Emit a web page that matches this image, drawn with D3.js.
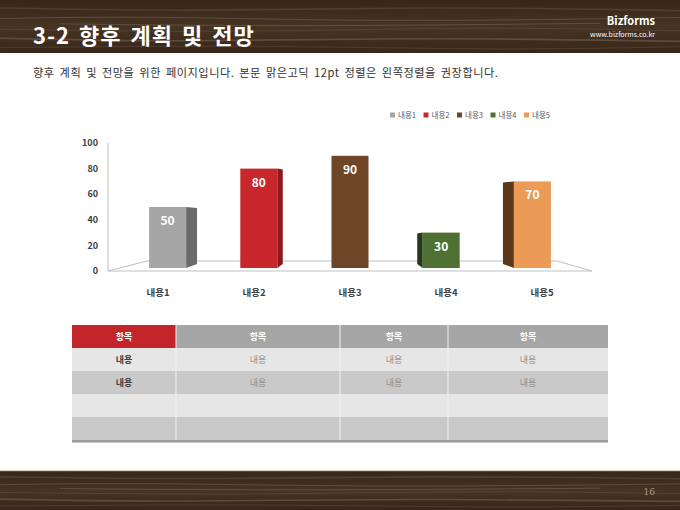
<!DOCTYPE html>
<html>
<head>
<meta charset="utf-8">
<script src="https://cdn.jsdelivr.net/npm/d3@7"></script>
<style>
body{margin:0;background:#fff;}
svg{display:block;font-family:"Noto Sans CJK KR","Noto Sans",sans-serif;}
</style>
</head>
<body>
<svg id="page" width="680" height="510"></svg>
<script>
var categories = ['내용1', '내용2', '내용3', '내용4', '내용5'];
var values = [50, 80, 90, 30, 70];
var yTicks = [0, 20, 40, 60, 80, 100];
var tableHead = ['항목', '항목', '항목', '항목'];
var tableRows = [
    ['내용', '내용', '내용', '내용'],
    ['내용', '내용', '내용', '내용'],
    ['', '', '', ''],
    ['', '', '', '']
];

var fronts = ['#a6a6a6', '#c8282c', '#6e4526', '#4e7133', '#eb9b56'],
    sides  = ['#6b6b6b', '#8a1a1d', '#4a2c15', '#25391a', '#5a3819'];

var svg = d3.select('#page');

// wood bands (header + footer)
function woodBand(y0, h, id){
    var g = svg.append('g');
    var grad = svg.append('defs').append('linearGradient')
        .attr('id', id).attr('x1', 0).attr('y1', 0).attr('x2', 0).attr('y2', 1);
    grad.append('stop').attr('offset', 0).attr('stop-color', '#36261a');
    grad.append('stop').attr('offset', 0.5).attr('stop-color', '#463322');
    grad.append('stop').attr('offset', 1).attr('stop-color', '#37271b');
    g.append('rect').attr('x', 0).attr('y', y0).attr('width', 680).attr('height', h)
        .attr('fill', 'url(#' + id + ')');
    var line = d3.line().curve(d3.curveBasis);
    var streaks = [
        [[0, .15], [200, .22], [420, .12], [680, .2]],
        [[0, .35], [150, .3], [380, .42], [680, .33]],
        [[0, .55], [240, .62], [470, .5], [680, .58]],
        [[0, .72], [180, .8], [400, .7], [680, .78]],
        [[0, .9], [260, .85], [500, .95], [680, .88]],
        [[60, .45], [300, .5], [600, .44]]
    ];
    g.selectAll('path.streak').data(streaks).join('path')
        .attr('class', 'streak')
        .attr('d', function(s){ return line(s.map(function(p){ return [p[0], y0 + p[1] * h]; })); })
        .attr('fill', 'none')
        .attr('stroke', '#8c7866')
        .attr('stroke-opacity', function(d, i){ return i % 2 ? 0.4 : 0.25; })
        .attr('stroke-width', function(d, i){ return i % 3 ? 1 : 1.6; });
    return g;
}
woodBand(0, 53, 'woodTop');
woodBand(471, 39, 'woodBot');
svg.append('rect').attr('x', 0).attr('y', 470).attr('width', 680).attr('height', 1.2).attr('fill', '#d9cbb8');

svg.append('text').attr('x', 33).attr('y', 44)
    .attr('fill', '#fff').attr('font-size', 22).attr('font-weight', 'bold')
    .attr('letter-spacing', 1).attr('word-spacing', 3)
    .text('3-2 향후 계획 및 전망');
svg.append('text').attr('x', 655).attr('y', 25).attr('text-anchor', 'end')
    .attr('fill', '#fff').attr('font-size', 11).attr('font-weight', 'bold')
    .text('Bizforms');
svg.append('text').attr('x', 655).attr('y', 37).attr('text-anchor', 'end')
    .attr('fill', '#fff').attr('font-size', 7)
    .text('www.bizforms.co.kr');
svg.append('text').attr('x', 655).attr('y', 495).attr('text-anchor', 'end')
    .attr('fill', '#a89886').attr('font-size', 9).attr('font-family', 'DejaVu Serif, serif')
    .text('16');

svg.append('text').attr('x', 33).attr('y', 77)
    .attr('fill', '#333').attr('font-size', 11.2)
    .attr('letter-spacing', 0.5).attr('word-spacing', 2)
    .text('향후 계획 및 전망을 위한 페이지입니다. 본문 맑은고딕 12pt 정렬은 왼쪽정렬을 권장합니다.');

// chart
var x = d3.scaleBand().domain(categories).range([110, 590]),
    y = d3.scaleLinear().domain([0, 100]).range([271, 143]),
    mid = 350, barW = 37, depth = 3;

var chart = svg.append('g');

chart.append('path')
    .attr('d', 'M108,' + y(0) + 'L592,' + y(0) + 'L557,' + (y(0) - 10) + 'L147,' + (y(0) - 10) + 'Z')
    .attr('fill', '#fff').attr('stroke', '#bfbfbf').attr('stroke-width', 1);
chart.append('line')
    .attr('x1', 108).attr('x2', 108).attr('y1', y(100)).attr('y2', y(0))
    .attr('stroke', '#bfbfbf');

chart.selectAll('text.ytick').data(yTicks).join('text')
    .attr('class', 'ytick')
    .attr('x', 98).attr('y', function(d){ return y(d); }).attr('dy', '0.35em')
    .attr('text-anchor', 'end').attr('font-size', 9).attr('font-weight', 'bold')
    .attr('fill', '#404040').text(function(d){ return d; });

chart.selectAll('text.xcat').data(categories).join('text')
    .attr('class', 'xcat')
    .attr('x', function(d){ return x(d) + x.bandwidth() / 2; }).attr('y', 296)
    .attr('text-anchor', 'middle').attr('font-size', 9.5).attr('font-weight', 'bold')
    .attr('fill', '#404040').text(function(d){ return d; });

var bars = categories.map(function(c, i){
    var cx = x(c) + x.bandwidth() / 2;
    var fc = cx + (mid - cx) * 0.05;
    return {
        i: i,
        v: values[i],
        fx: fc - barW / 2,
        side: (mid - cx) * 0.057,
        top: y(values[i]),
        bottom: y(0) - depth
    };
});

var bg = chart.selectAll('g.bar').data(bars).join('g').attr('class', 'bar');
bg.filter(function(d){ return Math.abs(d.side) > 0.5; }).append('path')
    .attr('d', function(d){
        var ex = d.side > 0 ? d.fx + barW : d.fx,
            bx = ex + d.side;
        return 'M' + ex + ',' + d.top + 'L' + bx + ',' + (d.top + 1) +
            'L' + bx + ',' + (d.bottom - 4) + 'L' + ex + ',' + d.bottom + 'Z';
    })
    .attr('fill', function(d){ return sides[d.i]; });
bg.append('rect')
    .attr('x', function(d){ return d.fx; }).attr('y', function(d){ return d.top; })
    .attr('width', barW).attr('height', function(d){ return d.bottom - d.top; })
    .attr('fill', function(d){ return fronts[d.i]; });
bg.append('text')
    .attr('x', function(d){ return d.fx + barW / 2; })
    .attr('y', function(d){ return d.top + 18; })
    .attr('text-anchor', 'middle').attr('font-size', 12).attr('font-weight', 'bold')
    .attr('fill', '#fff').text(function(d){ return d.v; });

// legend
var lg = chart.selectAll('g.leg').data(categories).join('g').attr('class', 'leg')
    .attr('transform', function(d, i){ return 'translate(' + (390 + i * 33.5) + ',115)'; });
lg.append('rect').attr('x', 0).attr('y', -2.5).attr('width', 5).attr('height', 5)
    .attr('fill', function(d, i){ return fronts[i]; });
lg.append('text').attr('x', 8).attr('dy', '0.35em').attr('font-size', 7.5)
    .attr('fill', '#595959').text(function(d){ return d; });

// table
var cols = [72, 176, 340, 448, 608], rowH = 23, headY = 325, headH = 23;
var tg = svg.append('g');
tg.append('rect').attr('x', 72).attr('y', headY + headH + rowH * tableRows.length)
    .attr('width', 536).attr('height', 2.5).attr('fill', '#9c9c9c');
tg.selectAll('rect.head').data(tableHead).join('rect').attr('class', 'head')
    .attr('x', function(d, i){ return cols[i]; }).attr('y', headY)
    .attr('width', function(d, i){ return cols[i + 1] - cols[i]; }).attr('height', headH)
    .attr('fill', function(d, i){ return i === 0 ? '#c4252b' : '#a6a6a6'; });
tg.selectAll('text.head').data(tableHead).join('text').attr('class', 'head')
    .attr('x', function(d, i){ return (cols[i] + cols[i + 1]) / 2; })
    .attr('y', headY + headH / 2).attr('dy', '0.35em')
    .attr('text-anchor', 'middle').attr('font-size', 9).attr('font-weight', 'bold')
    .attr('fill', '#fff').text(function(d){ return d; });

var rows = tg.selectAll('g.row').data(tableRows).join('g').attr('class', 'row')
    .attr('transform', function(d, r){ return 'translate(0,' + (headY + headH + r * rowH) + ')'; });
rows.append('rect').attr('x', 72).attr('width', 536).attr('height', rowH)
    .attr('fill', function(d, r){ return r % 2 ? '#c9c9c9' : '#e6e6e6'; });
rows.selectAll('text').data(function(d){ return d; }).join('text')
    .attr('x', function(d, i){ return (cols[i] + cols[i + 1]) / 2; })
    .attr('y', rowH / 2).attr('dy', '0.35em')
    .attr('text-anchor', 'middle').attr('font-size', 9)
    .attr('font-weight', function(d, i){ return i === 0 ? 'bold' : 'normal'; })
    .attr('fill', function(d, i){ return i === 0 ? '#404040' : '#8c8c8c'; })
    .text(function(d){ return d; });
tg.selectAll('line.sep').data(cols.slice(1, 4)).join('line').attr('class', 'sep')
    .attr('x1', function(d){ return d; }).attr('x2', function(d){ return d; })
    .attr('y1', headY).attr('y2', headY + headH + rowH * tableRows.length)
    .attr('stroke', '#f2f2f2').attr('stroke-width', 1);
</script>
</body>
</html>
